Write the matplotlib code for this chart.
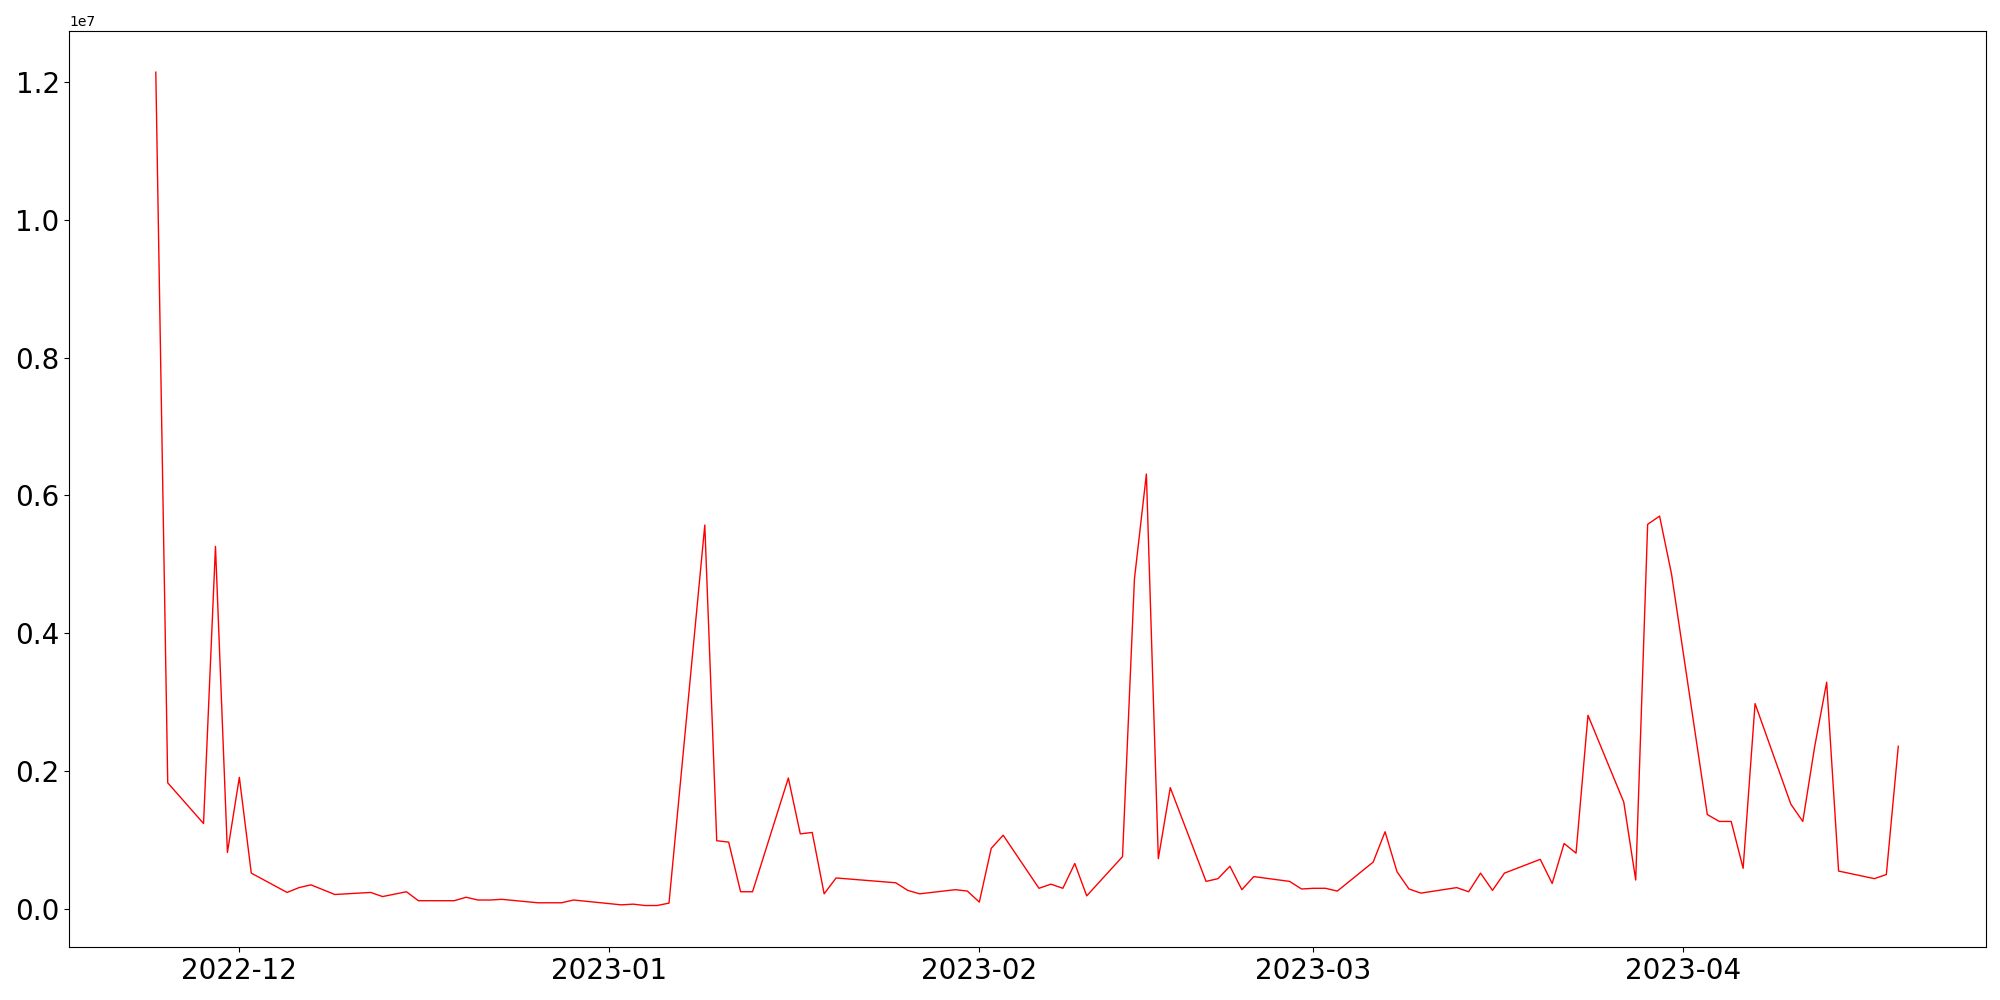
import matplotlib
matplotlib.use("Agg")
import matplotlib.pyplot as plt
import pandas as pd

# 日付
dates = [
    "2022-11-24", "2022-11-25", "2022-11-28", "2022-11-29", "2022-11-30",
    "2022-12-01", "2022-12-02", "2022-12-05", "2022-12-06", "2022-12-07",
    "2022-12-09", "2022-12-12", "2022-12-13", "2022-12-15", "2022-12-16",
    "2022-12-19", "2022-12-20", "2022-12-21", "2022-12-22", "2022-12-23",
    "2022-12-26", "2022-12-28", "2022-12-29",
    "2023-01-02", "2023-01-03", "2023-01-04", "2023-01-05", "2023-01-06",
    "2023-01-09", "2023-01-10", "2023-01-11", "2023-01-12", "2023-01-13",
    "2023-01-16", "2023-01-17", "2023-01-18", "2023-01-19", "2023-01-20",
    "2023-01-25", "2023-01-26", "2023-01-27", "2023-01-30", "2023-01-31",
    "2023-02-01", "2023-02-02", "2023-02-03", "2023-02-06", "2023-02-07",
    "2023-02-08", "2023-02-09", "2023-02-10", "2023-02-13", "2023-02-14",
    "2023-02-15", "2023-02-16", "2023-02-17", "2023-02-20", "2023-02-21",
    "2023-02-22", "2023-02-23", "2023-02-24", "2023-02-27", "2023-02-28",
    "2023-03-01", "2023-03-02", "2023-03-03", "2023-03-06", "2023-03-07",
    "2023-03-08", "2023-03-09", "2023-03-10", "2023-03-13", "2023-03-14",
    "2023-03-15", "2023-03-16", "2023-03-17", "2023-03-20", "2023-03-21",
    "2023-03-22", "2023-03-23", "2023-03-24", "2023-03-27", "2023-03-28",
    "2023-03-29", "2023-03-30", "2023-03-31", "2023-04-03", "2023-04-04",
    "2023-04-05", "2023-04-06", "2023-04-07", "2023-04-10", "2023-04-11",
    "2023-04-12", "2023-04-13", "2023-04-14", "2023-04-17", "2023-04-18",
    "2023-04-19",
]

# 値（百万単位）
values_m = [
    12.14, 1.83, 1.24, 5.26, 0.82,
    1.91, 0.52, 0.24, 0.31, 0.35,
    0.21, 0.24, 0.18, 0.25, 0.12,
    0.12, 0.17, 0.13, 0.13, 0.14,
    0.09, 0.09, 0.13,
    0.06, 0.07, 0.05, 0.05, 0.085,
    5.57, 0.99, 0.97, 0.25, 0.25,
    1.90, 1.09, 1.11, 0.22, 0.45,
    0.38, 0.27, 0.22, 0.28, 0.26,
    0.10, 0.88, 1.07, 0.30, 0.36,
    0.30, 0.66, 0.19, 0.76, 4.79,
    6.31, 0.73, 1.76, 0.40, 0.44,
    0.62, 0.28, 0.47, 0.40, 0.29,
    0.30, 0.30, 0.26, 0.68, 1.12,
    0.54, 0.29, 0.23, 0.31, 0.25,
    0.52, 0.27, 0.52, 0.72, 0.37,
    0.95, 0.81, 2.81, 1.55, 0.42,
    5.58, 5.70, 4.86, 1.37, 1.27,
    1.27, 0.59, 2.98, 1.52, 1.27,
    2.36, 3.29, 0.55, 0.44, 0.50,
    2.36,
]

x = pd.to_datetime(dates)
y = [v * 1e6 for v in values_m]

fig = plt.figure(figsize=(20, 10), dpi=100)
ax = fig.add_subplot(111)
fig.subplots_adjust(left=0.0347, right=0.9929, top=0.9695, bottom=0.0528)

ax.plot(x, y, color="red", linewidth=1)

ax.set_xlim(pd.Timestamp("2022-11-16 18:15"), pd.Timestamp("2023-04-26 08:00"))
ax.tick_params(axis="both", labelsize=20)

fig.savefig("out.png")
